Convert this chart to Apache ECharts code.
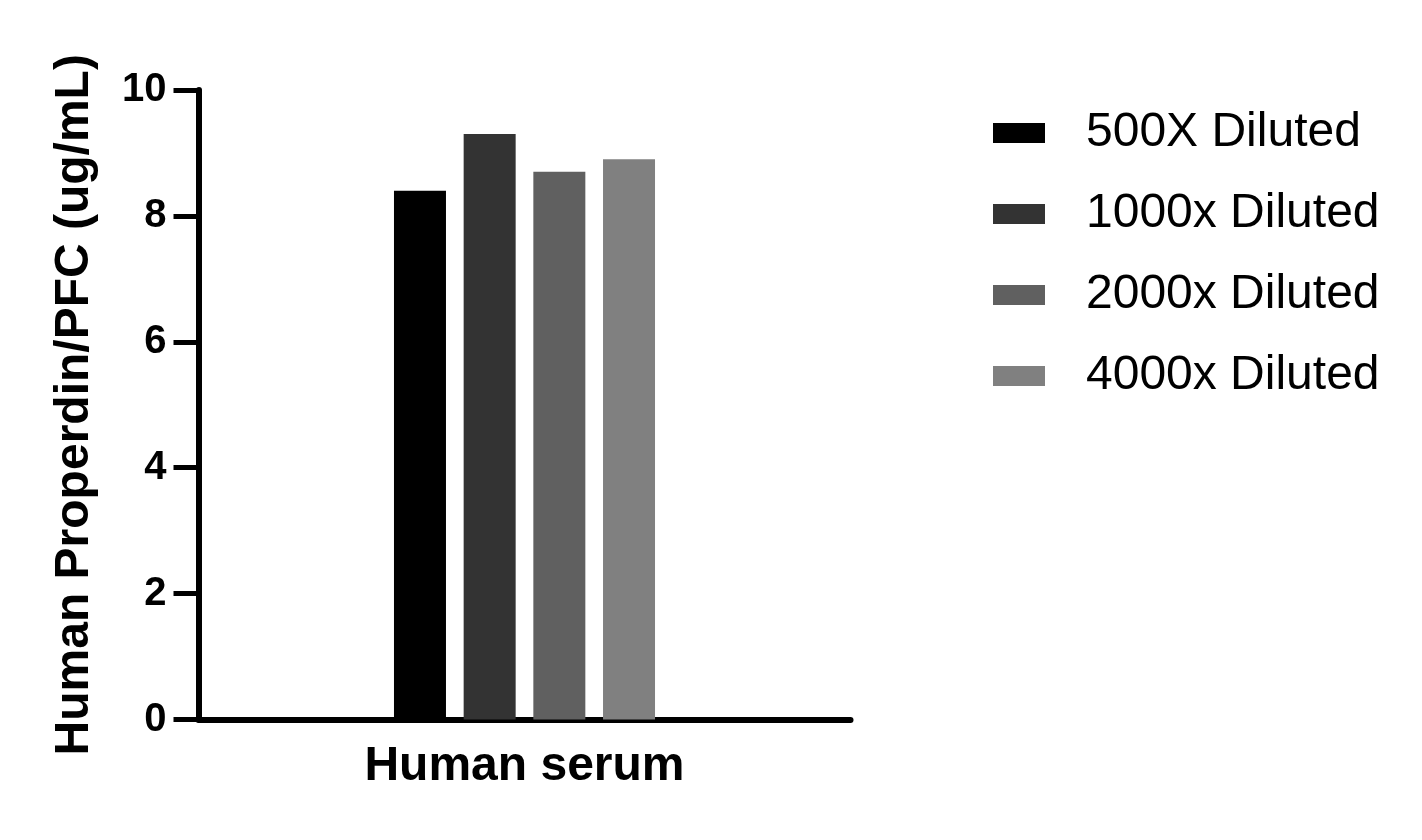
<!DOCTYPE html>
<html>
<head>
<meta charset="utf-8">
<script src="https://cdn.jsdelivr.net/npm/echarts@6/dist/echarts.min.js"></script>
<style>html,body{margin:0;padding:0;background:#fff;}#c{width:1422px;height:840px;}</style>
</head>
<body>
<div id="c"></div>
<script>
const categories = ['Human serum'];
const seriesNames = ['500X Diluted', '1000x Diluted', '2000x Diluted', '4000x Diluted'];
const values500 = [8.4];
const values1000 = [9.3];
const values2000 = [8.7];
const values4000 = [8.9];
const seriesColors = ['#000000', '#333333', '#606060', '#808080'];
const yTicks = { min: 0, max: 10, interval: 2 };

const seriesValues = [values500, values1000, values2000, values4000];
const FONT = '"Liberation Sans", Arial, sans-serif';

const chart = echarts.init(document.getElementById('c'));
chart.setOption({
  animation: false,
  backgroundColor: '#ffffff',
  grid: { left: 198.5, right: 571.5, top: 90, bottom: 120.5, containLabel: false },
  legend: {
    orient: 'vertical',
    left: 988,
    top: 104,
    itemWidth: 52,
    itemHeight: 20,
    itemGap: 33,
    icon: 'rect',
    textStyle: { fontFamily: FONT, fontSize: 48, color: '#000', padding: [0, 0, 0, 36] },
    data: seriesNames
  },
  xAxis: {
    type: 'category',
    data: categories,
    name: categories[0],
    nameLocation: 'middle',
    nameGap: 23,
    nameTextStyle: { fontFamily: FONT, fontSize: 48, fontWeight: 'bold', color: '#000' },
    axisLine: { show: true, lineStyle: { color: '#000', width: 6 } },
    axisTick: { show: false },
    axisLabel: { show: false },
    splitLine: { show: false }
  },
  yAxis: {
    type: 'value',
    min: yTicks.min,
    max: yTicks.max,
    interval: yTicks.interval,
    name: 'Human Properdin/PFC (ug/mL)',
    nameLocation: 'middle',
    nameGap: 100,
    nameTextStyle: { fontFamily: FONT, fontSize: 48, fontWeight: 'bold', color: '#000' },
    axisLine: { show: true, lineStyle: { color: '#000', width: 6 } },
    axisTick: { show: true, length: 25, lineStyle: { color: '#000', width: 5 } },
    axisLabel: { fontFamily: FONT, fontSize: 40, fontWeight: 'bold', color: '#000', margin: 32 },
    splitLine: { show: false }
  },
  series: seriesNames.map((name, i) => ({
    name: name,
    type: 'bar',
    data: seriesValues[i],
    barWidth: 52,
    barGap: '34%',
    itemStyle: { color: seriesColors[i] }
  }))
});
</script>
</body>
</html>
